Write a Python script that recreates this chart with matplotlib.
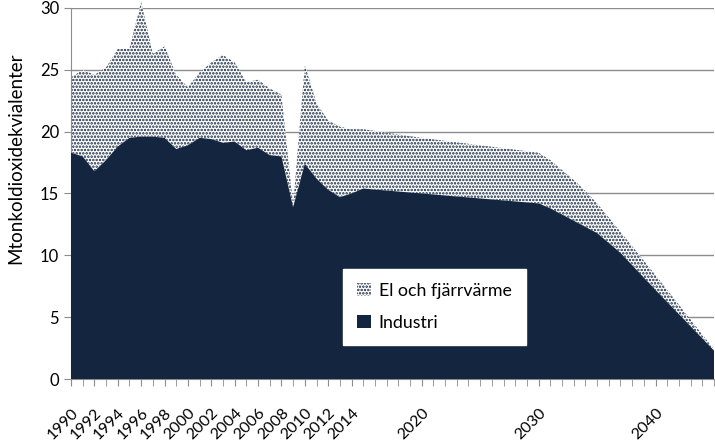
import numpy as np
import matplotlib
matplotlib.use("Agg")
import matplotlib.pyplot as plt
from matplotlib.patches import Patch

# Historiska år 1990-2015 + scenarioår
years = [1990, 1991, 1992, 1993, 1994, 1995, 1996, 1997, 1998, 1999,
         2000, 2001, 2002, 2003, 2004, 2005, 2006, 2007, 2008, 2009,
         2010, 2011, 2012, 2013, 2014, 2015,
         2020, 2025, 2030, 2031, 2032, 2033, 2034, 2035, 2037, 2040, 2045]
industri = [18.3, 18.0, 16.8, 17.7, 18.8, 19.5, 19.6, 19.6, 19.5, 18.6,
            18.9, 19.5, 19.4, 19.1, 19.2, 18.5, 18.7, 18.1, 18.0, 13.9,
            17.4, 16.2, 15.3, 14.7, 15.0, 15.4,
            15.0, 14.6, 14.2, 13.8, 13.3, 12.8, 12.3, 11.8, 10.2, 7.2, 2.3]
el_fjarrvarme = [6.1, 7.0, 7.8, 7.5, 7.9, 7.2, 10.9, 6.7, 7.4, 6.0,
                 4.7, 5.3, 6.2, 7.1, 6.4, 5.5, 5.5, 5.4, 5.0, 0.2,
                 8.0, 6.1, 5.6, 5.7, 5.2, 4.8,
                 4.5, 4.3, 4.1, 3.9, 3.6, 3.3, 2.9, 2.4, 1.7, 1.2, 0.1]

tick_years = list(range(1990, 2015, 2)) + [2020, 2030, 2040]
yticks = [0, 5, 10, 15, 20, 25, 30]

NAVY = "#14263f"
GRID = "#8c8c8c"

plt.rcParams["font.family"] = ["Lato", "DejaVu Sans"]
plt.rcParams["hatch.linewidth"] = 1.2

x = np.array(years)
ind = np.array(industri)
tot = ind + np.array(el_fjarrvarme)

fig = plt.figure(figsize=(7.15, 4.44), dpi=100)
ax = fig.add_axes([71 / 715, 65 / 444, 643 / 715, 371 / 444])

ax.fill_between(x, ind, tot, facecolor="white", edgecolor=NAVY,
                hatch=".....", linewidth=0, zorder=2, clip_on=False)
ax.fill_between(x, 0, ind, facecolor=NAVY, linewidth=0, zorder=3)

ax.set_xlim(1990, 2045)
ax.set_ylim(0, 30)
ax.set_yticks(yticks)
ax.yaxis.grid(True, color=GRID, linewidth=1)
ax.set_axisbelow(True)

ax.set_xticks(tick_years)
ax.set_xticks(range(1990, 2046), minor=True)
ax.set_xticklabels([str(t) for t in tick_years], rotation=45, ha="right",
                   va="top", rotation_mode="anchor", fontsize=11.5)
ax.tick_params(axis="x", which="both", length=5, color=GRID, pad=14)
ax.tick_params(axis="y", length=5, color=GRID, labelsize=12)

for side in ("top", "right"):
    ax.spines[side].set_visible(False)
for side in ("left", "bottom"):
    ax.spines[side].set_color(GRID)

ax.set_ylabel("Mtonkoldioxidekvialenter", fontsize=13.5)
ax.yaxis.set_label_coords(-0.073, 0.596)

handles = [Patch(facecolor="white", edgecolor=NAVY, hatch=".....", linewidth=0),
           Patch(facecolor=NAVY)]
leg = ax.legend(handles, ["El och fjärrvärme", "Industri"],
                loc="lower left", bbox_to_anchor=(272 / 643, 34 / 371),
                borderaxespad=0, frameon=True, fancybox=False, fontsize=12.8,
                handlelength=0.8, handleheight=0.8, handletextpad=0.4,
                labelspacing=0.9, borderpad=0.8)
leg.get_frame().set_edgecolor("white")
leg.get_frame().set_facecolor("white")
leg.get_frame().set_alpha(1)

fig.savefig("out.png", dpi=100)
